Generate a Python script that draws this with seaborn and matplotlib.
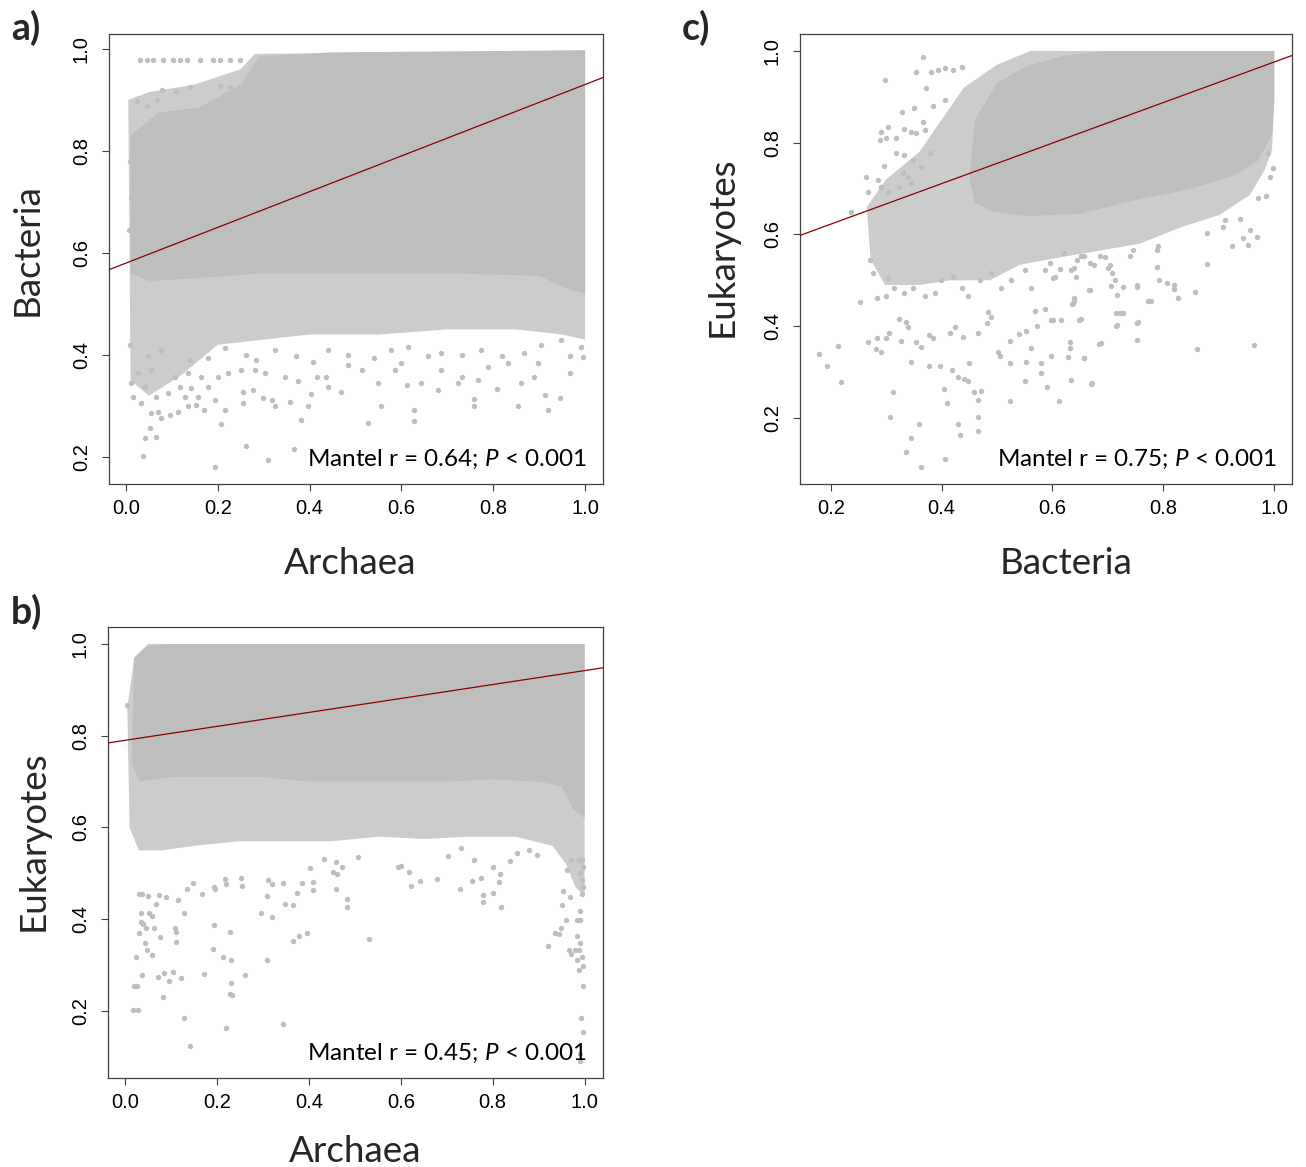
import numpy as np
import matplotlib
matplotlib.use("Agg")
import matplotlib.pyplot as plt
import seaborn as sns

# ---------------------------------------------------------------------------
# Data: pairwise community similarities (Mantel comparisons)
# Dense cores and semi-dense fringes of each cloud are given as outlines,
# sparse individual observations as (x, y) pairs.
# ---------------------------------------------------------------------------

# a) Archaea vs Bacteria
a_core_x = [0.01, 0.07, 0.16, 0.25, 0.29, 0.45, 1.00, 1.00, 0.96, 0.90, 0.70, 0.50, 0.30, 0.15, 0.05, 0.01]
a_core_y = [0.83, 0.875, 0.885, 0.93, 0.985, 0.993, 0.997, 0.52, 0.53, 0.555, 0.56, 0.56, 0.56, 0.55, 0.545, 0.56]
a_halo_x = [0.005, 0.05, 0.15, 0.25, 0.28, 1.00, 1.00, 0.95, 0.85, 0.70, 0.55, 0.40, 0.30, 0.20, 0.12, 0.05, 0.01]
a_halo_y = [0.90, 0.915, 0.93, 0.96, 0.99, 0.997, 0.43, 0.44, 0.45, 0.45, 0.44, 0.44, 0.43, 0.42, 0.36, 0.32, 0.35]
a_points = np.array([
    (0.031, 0.978), (0.046, 0.978), (0.059, 0.978), (0.081, 0.978), (0.102, 0.978), (0.118, 0.978),
    (0.133, 0.978), (0.161, 0.978), (0.190, 0.978), (0.205, 0.978), (0.227, 0.978), (0.248, 0.978),
    (0.078, 0.920), (0.110, 0.918), (0.139, 0.925), (0.205, 0.927), (0.227, 0.925),
    (0.023, 0.897), (0.045, 0.887), (0.067, 0.900), (0.008, 0.780), (0.010, 0.710), (0.007, 0.645),
    (0.036, 0.201), (0.193, 0.180), (0.261, 0.222), (0.309, 0.194), (0.365, 0.216), (0.041, 0.238),
    (0.065, 0.240), (0.052, 0.256), (0.208, 0.265), (0.382, 0.273), (0.527, 0.266), (0.627, 0.271),
    (0.627, 0.292), (0.556, 0.300), (0.757, 0.300), (0.757, 0.313), (0.854, 0.300), (0.919, 0.292),
    (0.946, 0.315), (0.912, 0.322), (0.809, 0.333), (0.967, 0.365), (0.996, 0.395), (0.967, 0.398),
    (0.888, 0.357), (0.861, 0.344), (0.723, 0.344), (0.680, 0.331), (0.643, 0.344), (0.611, 0.341),
    (0.549, 0.344), (0.469, 0.328), (0.440, 0.338), (0.402, 0.324), (0.397, 0.300), (0.357, 0.308),
    (0.317, 0.312), (0.298, 0.315), (0.324, 0.299), (0.255, 0.305), (0.255, 0.328), (0.277, 0.331),
    (0.215, 0.292), (0.193, 0.312), (0.415, 0.357), (0.436, 0.357), (0.375, 0.348), (0.346, 0.357),
    (0.077, 0.276), (0.070, 0.289), (0.055, 0.286), (0.095, 0.282), (0.113, 0.289), (0.135, 0.299),
    (0.153, 0.302), (0.171, 0.292), (0.033, 0.305), (0.015, 0.318), (0.012, 0.344), (0.041, 0.338),
    (0.066, 0.318), (0.092, 0.325), (0.117, 0.338), (0.142, 0.335), (0.128, 0.318), (0.157, 0.318),
    (0.179, 0.338), (0.200, 0.357), (0.026, 0.364), (0.055, 0.371), (0.106, 0.357), (0.135, 0.364),
    (0.164, 0.357), (0.222, 0.364), (0.251, 0.371), (0.280, 0.371), (0.302, 0.364), (0.484, 0.380),
    (0.513, 0.371), (0.585, 0.371), (0.600, 0.384), (0.687, 0.371), (0.731, 0.357), (0.789, 0.377),
    (0.832, 0.384), (0.898, 0.384), (0.767, 0.351),
    (0.008, 0.420), (0.048, 0.397), (0.077, 0.410), (0.139, 0.390), (0.178, 0.393), (0.215, 0.413),
    (0.262, 0.400), (0.284, 0.390), (0.324, 0.410), (0.370, 0.397), (0.407, 0.387), (0.440, 0.410),
    (0.484, 0.400), (0.541, 0.393), (0.578, 0.410), (0.614, 0.416), (0.658, 0.397), (0.687, 0.404),
    (0.731, 0.400), (0.774, 0.410), (0.818, 0.397), (0.868, 0.404), (0.904, 0.420), (0.948, 0.429),
    (0.992, 0.416),
])
a_fit = (0.58, 0.35)          # intercept, slope
a_note = "Mantel r = 0.64; $\\mathit{P}$ < 0.001"

# b) Archaea vs Eukaryotes
b_core_x = [0.015, 0.02, 0.05, 0.10, 1.00, 1.00, 0.975, 0.95, 0.90, 0.80, 0.70, 0.60, 0.50, 0.40, 0.30, 0.20, 0.10, 0.03]
b_core_y = [0.74, 0.97, 0.995, 1.00, 1.00, 0.62, 0.64, 0.69, 0.70, 0.705, 0.70, 0.70, 0.70, 0.70, 0.71, 0.71, 0.71, 0.70]
b_halo_x = [0.005, 0.02, 0.05, 1.00, 1.00, 0.98, 0.96, 0.93, 0.85, 0.75, 0.65, 0.55, 0.45, 0.35, 0.25, 0.15, 0.08, 0.03, 0.01]
b_halo_y = [0.86, 0.97, 1.00, 1.00, 0.45, 0.47, 0.52, 0.56, 0.58, 0.58, 0.575, 0.58, 0.57, 0.57, 0.57, 0.56, 0.55, 0.55, 0.60]
b_points = np.array([
    (0.017, 0.202), (0.029, 0.202), (0.019, 0.255), (0.026, 0.255), (0.037, 0.278), (0.024, 0.318),
    (0.071, 0.274), (0.085, 0.283), (0.104, 0.284), (0.096, 0.265), (0.122, 0.271), (0.082, 0.231),
    (0.129, 0.185), (0.142, 0.123), (0.172, 0.280), (0.220, 0.164), (0.230, 0.262), (0.228, 0.236),
    (0.233, 0.234), (0.262, 0.278), (0.309, 0.312), (0.344, 0.171), (0.214, 0.317), (0.230, 0.312),
    (0.192, 0.336), (0.194, 0.387), (0.228, 0.372), (0.296, 0.414), (0.319, 0.404), (0.365, 0.353),
    (0.378, 0.363), (0.397, 0.371), (0.531, 0.357),
    (0.034, 0.414), (0.053, 0.413), (0.058, 0.407), (0.035, 0.394), (0.040, 0.389), (0.046, 0.382),
    (0.031, 0.369), (0.044, 0.348), (0.047, 0.334), (0.058, 0.323), (0.064, 0.380), (0.077, 0.362),
    (0.109, 0.382), (0.111, 0.372), (0.112, 0.351), (0.128, 0.413), (0.115, 0.442), (0.067, 0.434),
    (0.075, 0.453), (0.089, 0.449), (0.031, 0.455), (0.037, 0.455), (0.051, 0.450), (0.167, 0.454),
    (0.134, 0.467), (0.148, 0.478), (0.194, 0.471), (0.196, 0.467), (0.220, 0.477), (0.218, 0.488),
    (0.252, 0.489), (0.254, 0.472), (0.309, 0.450), (0.312, 0.485), (0.319, 0.477), (0.348, 0.434),
    (0.365, 0.431), (0.374, 0.458), (0.343, 0.478), (0.386, 0.479), (0.408, 0.482), (0.408, 0.464),
    (0.402, 0.511), (0.459, 0.467), (0.482, 0.445), (0.482, 0.427), (0.452, 0.503), (0.462, 0.498),
    (0.472, 0.514), (0.433, 0.531), (0.459, 0.525), (0.508, 0.535), (0.595, 0.514), (0.600, 0.517),
    (0.617, 0.503), (0.622, 0.473), (0.641, 0.484), (0.678, 0.487), (0.728, 0.465), (0.756, 0.484),
    (0.774, 0.489), (0.778, 0.438), (0.778, 0.453), (0.801, 0.458), (0.819, 0.427), (0.814, 0.482),
    (0.815, 0.498), (0.801, 0.514), (0.702, 0.538), (0.730, 0.555), (0.759, 0.529), (0.837, 0.527),
    (0.852, 0.545), (0.878, 0.551), (0.897, 0.541),
    (0.920, 0.341), (0.935, 0.371), (0.944, 0.367), (0.948, 0.382), (0.951, 0.432), (0.953, 0.462),
    (0.959, 0.398), (0.968, 0.448), (0.962, 0.507), (0.970, 0.529), (0.966, 0.333), (0.971, 0.325),
    (0.980, 0.333), (0.988, 0.333), (0.983, 0.363), (0.991, 0.348), (0.991, 0.398), (0.984, 0.398),
    (0.989, 0.418), (0.984, 0.311), (0.995, 0.317), (0.988, 0.290), (0.996, 0.298), (0.996, 0.255),
    (0.993, 0.185), (0.996, 0.154), (0.991, 0.107), (0.989, 0.092), (0.995, 0.456), (0.995, 0.485),
    (0.991, 0.500), (0.996, 0.514), (0.995, 0.529), (0.988, 0.529), (0.996, 0.471), (0.004, 0.867),
])
b_fit = (0.79, 0.152)
b_note = "Mantel r = 0.45; $\\mathit{P}$ < 0.001"

# c) Bacteria vs Eukaryotes
c_core_x = [0.45, 0.46, 0.50, 0.55, 0.62, 0.70, 1.00, 1.00, 0.996, 0.97, 0.93, 0.85, 0.75, 0.65, 0.55, 0.49, 0.46]
c_core_y = [0.72, 0.85, 0.93, 0.965, 0.99, 1.00, 1.00, 0.893, 0.817, 0.76, 0.73, 0.70, 0.675, 0.645, 0.64, 0.65, 0.67]
c_halo_x = [0.265, 0.30, 0.36, 0.40, 0.44, 0.50, 0.56, 1.00, 1.00, 0.996, 0.983, 0.956, 0.902, 0.830, 0.758, 0.686, 0.613, 0.541, 0.487, 0.415, 0.361, 0.298, 0.272]
c_halo_y = [0.66, 0.72, 0.78, 0.85, 0.92, 0.97, 1.00, 1.00, 0.893, 0.784, 0.741, 0.686, 0.643, 0.615, 0.58, 0.565, 0.55, 0.534, 0.50, 0.50, 0.49, 0.49, 0.545]
c_points = np.array([
    (0.366, 0.986), (0.298, 0.937), (0.372, 0.919), (0.354, 0.955), (0.381, 0.955), (0.394, 0.959),
    (0.406, 0.962), (0.421, 0.959), (0.436, 0.966), (0.351, 0.875), (0.329, 0.868), (0.384, 0.879),
    (0.406, 0.893), (0.303, 0.834), (0.291, 0.824), (0.288, 0.806), (0.300, 0.810), (0.318, 0.810),
    (0.333, 0.829), (0.345, 0.824), (0.354, 0.822), (0.366, 0.846), (0.370, 0.828), (0.317, 0.777),
    (0.333, 0.773), (0.296, 0.749), (0.264, 0.726), (0.267, 0.693), (0.285, 0.719), (0.291, 0.704),
    (0.236, 0.650), (0.303, 0.693), (0.324, 0.704), (0.345, 0.712), (0.348, 0.763), (0.363, 0.748),
    (0.379, 0.777), (0.330, 0.734), (0.339, 0.726),
    (0.270, 0.545), (0.276, 0.516), (0.283, 0.461), (0.300, 0.465), (0.303, 0.505), (0.315, 0.483),
    (0.333, 0.472), (0.348, 0.483), (0.370, 0.465), (0.388, 0.472), (0.399, 0.501), (0.421, 0.508),
    (0.436, 0.483), (0.448, 0.465), (0.469, 0.501), (0.490, 0.516), (0.508, 0.483), (0.526, 0.501),
    (0.550, 0.523), (0.562, 0.483), (0.586, 0.523), (0.604, 0.508), (0.634, 0.523), (0.652, 0.552),
    (0.178, 0.339), (0.193, 0.314), (0.218, 0.279), (0.214, 0.356), (0.252, 0.453), (0.267, 0.365),
    (0.284, 0.375), (0.282, 0.350), (0.291, 0.343), (0.300, 0.374), (0.306, 0.385), (0.312, 0.256),
    (0.307, 0.202), (0.324, 0.415), (0.335, 0.410), (0.339, 0.399), (0.326, 0.367), (0.344, 0.323),
    (0.354, 0.366), (0.362, 0.354), (0.345, 0.156), (0.335, 0.125), (0.360, 0.187), (0.363, 0.093),
    (0.377, 0.314), (0.377, 0.381), (0.385, 0.375), (0.397, 0.314), (0.404, 0.264), (0.409, 0.232),
    (0.406, 0.110), (0.419, 0.305), (0.416, 0.385), (0.424, 0.399), (0.439, 0.376), (0.430, 0.289),
    (0.440, 0.285), (0.448, 0.280), (0.449, 0.320), (0.458, 0.256), (0.471, 0.258), (0.430, 0.187),
    (0.434, 0.163), (0.466, 0.203), (0.466, 0.172), (0.466, 0.240), (0.482, 0.407), (0.489, 0.419),
    (0.484, 0.432), (0.466, 0.386), (0.502, 0.343), (0.505, 0.336), (0.524, 0.367), (0.523, 0.320),
    (0.524, 0.236), (0.539, 0.383), (0.553, 0.390), (0.551, 0.280), (0.553, 0.323), (0.562, 0.352),
    (0.568, 0.434), (0.586, 0.438), (0.572, 0.401), (0.580, 0.320), (0.579, 0.299), (0.590, 0.267),
    (0.597, 0.334), (0.598, 0.414), (0.616, 0.414), (0.611, 0.238), (0.631, 0.365), (0.631, 0.352),
    (0.628, 0.333), (0.633, 0.283), (0.651, 0.415), (0.656, 0.330), (0.670, 0.275), (0.637, 0.450),
    (0.638, 0.461), (0.667, 0.479),
    (0.714, 0.401), (0.714, 0.429), (0.722, 0.429), (0.752, 0.408), (0.753, 0.370), (0.773, 0.454),
    (0.860, 0.351), (0.963, 0.359), (0.684, 0.362), (0.647, 0.414),
    (0.879, 0.536), (0.857, 0.474), (0.827, 0.461), (0.819, 0.490), (0.819, 0.481), (0.807, 0.495),
    (0.793, 0.500), (0.788, 0.528), (0.778, 0.454), (0.755, 0.409), (0.753, 0.490), (0.753, 0.485),
    (0.727, 0.429), (0.717, 0.402), (0.717, 0.468), (0.727, 0.486), (0.706, 0.488), (0.712, 0.501),
    (0.707, 0.517), (0.701, 0.527), (0.687, 0.363), (0.666, 0.478), (0.638, 0.454), (0.636, 0.449),
    (0.642, 0.508), (0.638, 0.527), (0.601, 0.506), (0.614, 0.524), (0.620, 0.559), (0.657, 0.330),
    (0.672, 0.276), (0.923, 0.575), (0.953, 0.577), (0.968, 0.595), (0.944, 0.593), (0.956, 0.610),
    (0.938, 0.633), (0.992, 0.726), (0.997, 0.744), (0.985, 0.683), (0.971, 0.679), (0.989, 0.777),
    (0.908, 0.617), (0.911, 0.632), (0.878, 0.604), (0.788, 0.566), (0.791, 0.574), (0.740, 0.553),
    (0.745, 0.566), (0.704, 0.534), (0.695, 0.551), (0.686, 0.552), (0.674, 0.534), (0.668, 0.537),
    (0.656, 0.552), (0.644, 0.545), (0.595, 0.537), (0.601, 0.414),
])
c_fit = (0.534, 0.442)
c_note = "Mantel r = 0.75; $\\mathit{P}$ < 0.001"

ticks_01 = [0.0, 0.2, 0.4, 0.6, 0.8, 1.0]
ticks_21 = [0.2, 0.4, 0.6, 0.8, 1.0]

# ---------------------------------------------------------------------------
# Styling
# ---------------------------------------------------------------------------
sns.set_style("ticks")
plt.rcParams["font.family"] = ["Lato", "DejaVu Sans"]
plt.rcParams["mathtext.fontset"] = "custom"
plt.rcParams["mathtext.rm"] = "Lato"
plt.rcParams["mathtext.it"] = "Lato:italic"

DOT = "#BEBEBE"
FRINGE = "#CCCCCC"
FIT = "#8B0000"
FRAME = "#404040"
W, H = 1306, 1167


def fx(px):
    return px / W


def fy(py):
    return 1 - py / H


def panel(ax, core_x, core_y, halo_x, halo_y, pts, fit, xlim, ylim, xticks, yticks, note):
    ax.fill(halo_x, halo_y, color=FRINGE, lw=0, zorder=1)
    ax.fill(core_x, core_y, color=DOT, lw=0, zorder=2)
    sns.scatterplot(x=pts[:, 0], y=pts[:, 1], ax=ax, color=DOT, s=15,
                    linewidth=0, zorder=3, legend=False)
    ax.axline((0, fit[0]), slope=fit[1], color=FIT, lw=0.9, zorder=4)
    ax.set_xlim(*xlim)
    ax.set_ylim(*ylim)
    ax.set_xticks(xticks)
    ax.set_xticklabels([f"{t:.1f}" for t in xticks])
    ax.set_yticks(yticks)
    ax.set_yticklabels([f"{t:.1f}" for t in yticks], rotation=90, va="center")
    ax.tick_params(axis="both", direction="out", length=5, width=0.8, color=FRAME,
                   labelsize=14.5, labelcolor="black", labelfontfamily="Liberation Sans")
    ax.tick_params(axis="x", pad=6)
    ax.tick_params(axis="y", pad=8)
    for sp in ax.spines.values():
        sp.set_visible(True)
        sp.set_color(FRAME)
        sp.set_linewidth(0.9)
    ax.set_xlabel("")
    ax.set_ylabel("")
    ax.text(0.968, 0.04, note, transform=ax.transAxes, ha="right", va="baseline",
            fontsize=17.5, color="black", zorder=5)


fig = plt.figure(figsize=(W / 100, H / 100), dpi=100)
ax_a = fig.add_axes([fx(109), fy(484), (603 - 109) / W, 450 / H])
ax_c = fig.add_axes([fx(800), fy(484), (1292 - 800) / W, 450 / H])
ax_b = fig.add_axes([fx(108), fy(1078), (603 - 108) / W, 451 / H])

panel(ax_a, a_core_x, a_core_y, a_halo_x, a_halo_y, a_points, a_fit,
      (-0.037, 1.039), (0.147, 1.029), ticks_01, ticks_21, a_note)
panel(ax_b, b_core_x, b_core_y, b_halo_x, b_halo_y, b_points, b_fit,
      (-0.037, 1.040), (0.054, 1.037), ticks_01, ticks_21, b_note)
panel(ax_c, c_core_x, c_core_y, c_halo_x, c_halo_y, c_points, c_fit,
      (0.1446, 1.032), (0.056, 1.037), ticks_21, ticks_21, c_note)

# axis titles
LAB = 26.5
fig.text(fx(350), fy(574), "Archaea", ha="center", va="baseline", fontsize=LAB)
fig.text(fx(1066), fy(574), "Bacteria", ha="center", va="baseline", fontsize=LAB)
fig.text(fx(355), fy(1162), "Archaea", ha="center", va="baseline", fontsize=LAB)
fig.text(fx(27), fy(250), "Bacteria", ha="center", va="center", rotation=90, fontsize=LAB)
fig.text(fx(722), fy(247), "Eukaryotes", ha="center", va="center", rotation=90, fontsize=LAB)
fig.text(fx(33), fy(841), "Eukaryotes", ha="center", va="center", rotation=90, fontsize=LAB)

# panel letters
fig.text(fx(11), fy(40), "a)", ha="left", va="baseline", fontsize=27, fontweight="bold")
fig.text(fx(682), fy(40), "c)", ha="left", va="baseline", fontsize=27, fontweight="bold")
fig.text(fx(11), fy(624), "b)", ha="left", va="baseline", fontsize=27, fontweight="bold")

fig.savefig("out.png", dpi=100, facecolor="white")
